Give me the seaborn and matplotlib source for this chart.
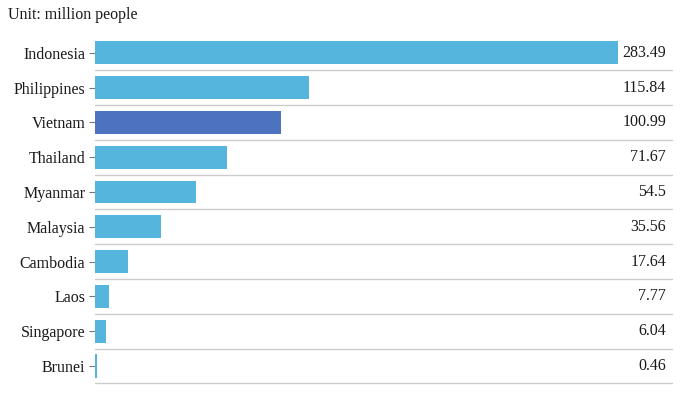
import matplotlib
matplotlib.use("Agg")
import matplotlib.pyplot as plt
import seaborn as sns
import pandas as pd

countries = ["Indonesia", "Philippines", "Vietnam", "Thailand", "Myanmar",
             "Malaysia", "Cambodia", "Laos", "Singapore", "Brunei"]
population = [283.49, 115.84, 100.99, 71.67, 54.5, 35.56, 17.64, 7.77, 6.04, 0.46]
value_labels = ["283.49", "115.84", "100.99", "71.67", "54.5",
                "35.56", "17.64", "7.77", "6.04", "0.46"]
highlight = "Vietnam"

df = pd.DataFrame({"country": countries, "population": population})

sns.set_style("white")
plt.rcParams['font.family'] = ['Liberation Serif', 'DejaVu Serif']

fig = plt.figure(figsize=(7, 3.94), dpi=100)
ax = fig.add_axes([0.1357, 0.027, 0.824, 0.883])

palette = {c: ("#4C72C0" if c == highlight else "#55B5DD") for c in countries}
sns.barplot(data=df, y="country", x="population", hue="country", palette=palette,
            order=countries, width=0.66, legend=False, saturation=1,
            linewidth=0, ax=ax)
# keep the tiny Brunei bar visible as a hairline
ax.patches[-1].set_edgecolor("#55B5DD")
ax.patches[-1].set_linewidth(0.8)

ax.set_xlim(0, 312.7)
ax.set_ylim(len(countries) - 0.5, -0.5)
ax.set_xlabel("")
ax.set_ylabel("")
ax.set_xticks([])
for s in ax.spines.values():
    s.set_visible(False)

# row separators
for i in range(len(countries)):
    ax.axhline(i + 0.5, color="#cccccc", lw=1, zorder=0, clip_on=False)

ax.tick_params(axis="y", length=4, width=0.8, color="#777777", pad=3,
               labelsize=11.5, labelcolor="#1a1a1a", left=True)

for i, lab in enumerate(value_labels):
    ax.text(0.99, i, lab, transform=ax.get_yaxis_transform(),
            ha="right", va="center", fontsize=11.5, color="#1a1a1a")

fig.text(0.011, 0.962, "Unit: million people", fontsize=11.5, color="#1a1a1a",
         ha="left", va="center")

fig.savefig("out.png", dpi=100)
